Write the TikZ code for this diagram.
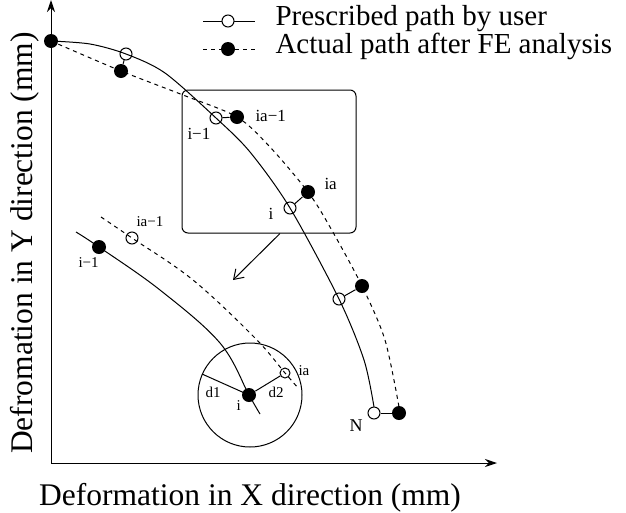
\documentclass[tikz,border=0pt]{standalone}
\usepackage{fontspec}
\setmainfont{Liberation Serif}
\usetikzlibrary{arrows.meta}

\tikzset{
  opendot/.style={circle, draw, inner sep=0pt, minimum size=12pt},
  fulldot/.style={circle, fill=black, inner sep=0pt, minimum size=14pt},
  ptlabel/.style={font=\fontsize{17}{17}\selectfont, inner sep=0pt, anchor=base west},
  insetlabel/.style={font=\fontsize{15}{15}\selectfont, inner sep=0pt, anchor=base west},
  bigtext/.style={font=\fontsize{29}{29}\selectfont, inner sep=0pt, anchor=base west},
  actual/.style={dash pattern=on 4pt off 4pt},
}

\begin{document}
\begin{tikzpicture}[x=1pt, y=-1pt, line width=1pt]
  \useasboundingbox (0,0) rectangle (626,512);

  % axes
  \coordinate (O) at (51,463);
  \coordinate (Ytop) at (51,0);
  \coordinate (Xend) at (497,463);
  \draw[-{Stealth[length=12pt,width=8pt]}] (O) to (Ytop);
  \draw[-{Stealth[length=12pt,width=8pt]}] (O) to (Xend);
  \node[font=\fontsize{31.5}{31.5}\selectfont, inner sep=0pt, anchor=base] (xlab) at (250,505) {Deformation in X direction (mm)};
  \node[font=\fontsize{31.5}{31.5}\selectfont, inner sep=0pt, anchor=base, rotate=90] (ylab) at (32,243) {Defromation in Y direction (mm)};

  % legend
  \coordinate (La) at (203,21);
  \coordinate (Lb) at (255,21);
  \coordinate (Lc) at (203,49);
  \coordinate (Ld) at (255,49);
  \draw (La) to (Lb);
  \draw[actual] (Lc) to (Ld);
  \node[opendot, fill=white] (Lp) at (228,21) {};
  \node[fulldot] (Lq) at (228,49) {};
  \node[bigtext] (Ltxt1) at (275,25) {Prescribed path by user};
  \node[bigtext] (Ltxt2) at (275,53) {Actual path after FE analysis};

  % prescribed (open) and actual (filled) points
  \node[fulldot] (S) at (51,41) {};
  \node[opendot] (P1) at (126,54) {};
  \node[fulldot] (A1) at (121,71) {};
  \node[opendot] (P2) at (216,118) {};
  \node[fulldot] (A2) at (237,117) {};
  \node[opendot] (P3) at (290,208) {};
  \node[fulldot] (A3) at (308,192) {};
  \node[opendot] (P4) at (339,299) {};
  \node[fulldot] (A4) at (362,286) {};
  \node[opendot] (P5) at (374,413) {};
  \node[fulldot] (A5) at (399,413) {};

  \draw plot[smooth, tension=0.5] coordinates {(S.center) (90,44) (P1.center) (165,73) (P2.center) (250,152) (P3.center) (P4.center) (364,360) (374,407)};
  \draw[actual] plot[smooth, tension=0.5] coordinates {(S.center) (A1.center) (183,95) (A2.center) (270,147) (A3.center) (330,227) (A4.center) (385,340) (399,407)};

  \draw (P1) to (A1);
  \draw (P2) to (A2);
  \draw (P3) to (A3);
  \draw (P4) to (A4);
  \draw (P5) to (A5);

  \node[ptlabel] (Li1) at (187,139) {i−1};
  \node[ptlabel] (Lia1) at (255,121) {ia−1};
  \node[ptlabel] (Li) at (268,219) {i};
  \node[ptlabel] (Lia) at (324,189) {ia};
  \node[font=\fontsize{18}{18}\selectfont, inner sep=0pt, anchor=base west] (LN) at (349,431) {N};

  % zoom box and enlarged view
  \node[draw, rounded corners=6pt, minimum width=174pt, minimum height=143pt, inner sep=0pt] (zoombox) at (269,161.5) {};
  \coordinate (arrowend) at (233,280);
  \draw[-{Straight Barb[length=9pt,width=12pt]}] ([xshift=11pt]zoombox.south) to (arrowend);

  \node[fulldot] (Q1) at (99,247) {};
  \node[fulldot] (Q2) at (249,395) {};
  \node[opendot] (R1) at (132,238) {};
  \node[opendot, minimum size=10pt] (R2) at (285,373) {};

  \coordinate (Qs) at (76,232);
  \coordinate (Qe) at (260,414);
  \coordinate (Rs) at (101,217);
  \coordinate (Re) at (299,389);
  \draw plot[smooth, tension=0.6] coordinates {(Qs) (Q1.center) (160,290) (220,343) (Q2.center) (Qe)};
  \draw[actual] plot[smooth, tension=0.6] coordinates {(Rs) (R1.center) (193,280) (255,338) (R2.center) (Re)};

  \draw (250,395) circle[radius=52];
  \coordinate (d1end) at (202,374);
  \draw (Q2.center) to (d1end);
  \draw (Q2) to (R2);

  \node[insetlabel] (Mi1) at (78,267) {i−1};
  \node[insetlabel] (Mia1) at (136,226) {ia−1};
  \node[insetlabel] (Md1) at (205,397) {d1};
  \node[insetlabel] (Md2) at (268,397) {d2};
  \node[insetlabel] (Mi) at (236,410) {i};
  \node[insetlabel] (Mia) at (298,375) {ia};
\end{tikzpicture}
\end{document}
